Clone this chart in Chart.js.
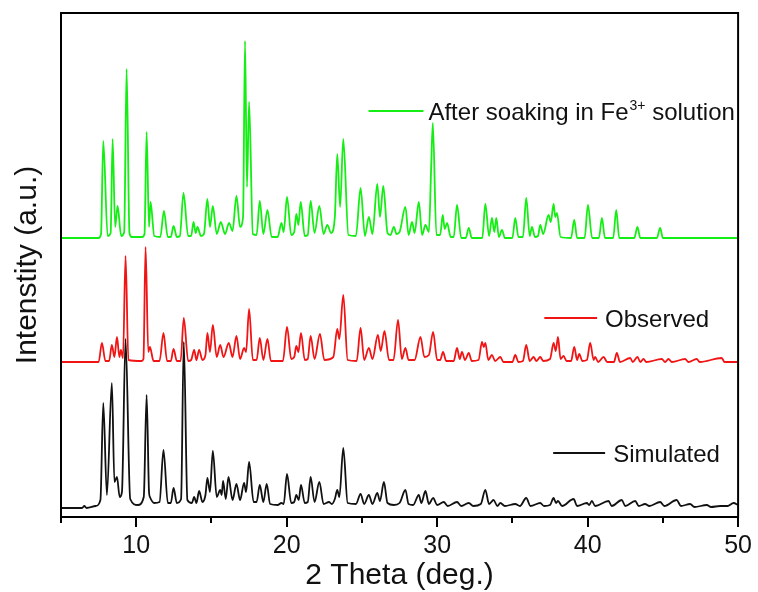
<!DOCTYPE html>
<html>
<head>
<meta charset="utf-8">
<script src="https://cdn.jsdelivr.net/npm/chart.js@4/dist/chart.umd.min.js"></script>
<style>
  body { margin: 0; background: #fff; }
</style>
</head>
<body>
<canvas id="xrd" width="758" height="592"></canvas>
<script>
// 2 theta (deg.) / intensity pairs, traces already offset
var simulated = [
  [5, 9], [6.4, 9], [6.55, 11], [6.7, 9], [7.3, 11], [7.62, 17], [7.81, 114], [8.05, 22], [8.38, 134],
  [8.55, 35], [8.72, 40], [8.9, 20], [9.05, 25], [9.29, 178], [9.6, 18], [10.1, 12], [10.5, 20],
  [10.69, 122], [10.85, 25], [10.91, 20], [11.2, 14], [11.55, 15], [11.81, 67], [12.1, 14],
  [12.3, 14], [12.48, 29], [12.7, 14], [12.98, 18], [13.16, 175], [13.4, 17], [13.7, 14],
  [13.85, 20], [14.0, 14], [14.18, 26], [14.4, 15], [14.6, 22], [14.73, 39], [14.9, 25],
  [15.09, 66], [15.35, 20], [15.58, 27], [15.68, 22], [15.77, 36], [15.95, 18], [16.13, 40],
  [16.4, 17], [16.66, 33], [16.9, 17], [17.17, 34], [17.3, 25], [17.5, 55], [17.8, 15],
  [18.0, 15], [18.21, 32], [18.45, 15], [18.67, 33], [18.9, 13], [19.4, 12], [19.65, 14],
  [19.8, 13], [20.02, 43], [20.3, 14], [20.5, 15], [20.64, 22], [20.8, 17], [20.95, 32],
  [21.2, 14], [21.4, 15], [21.59, 40], [21.85, 15], [22.17, 35], [22.45, 13], [22.81, 15],
  [23.0, 13], [23.2, 18], [23.36, 27], [23.5, 20], [23.76, 69], [24.05, 14], [24.6, 13],
  [24.91, 23], [25.15, 13], [25.46, 22], [25.7, 13], [26.02, 24], [26.2, 16], [26.46, 35],
  [26.7, 14], [27.12, 12], [27.5, 14], [27.89, 27], [28.1, 13], [28.4, 12], [28.78, 22],
  [28.95, 14], [29.22, 26], [29.45, 13], [29.73, 19], [30.0, 12], [30.44, 15], [30.7, 11],
  [31.32, 15], [31.6, 11], [32.1, 14], [32.4, 11], [32.9, 13], [33.2, 27], [33.45, 13],
  [33.75, 17], [34.0, 11], [34.2, 14], [34.5, 11], [35.19, 13], [35.5, 11], [35.92, 19],
  [36.2, 11], [36.85, 14], [37.1, 11], [37.5, 12], [37.74, 19], [37.9, 14], [38.03, 16],
  [38.3, 11], [39.07, 18], [39.3, 11], [39.95, 14], [40.1, 12], [40.28, 16], [40.5, 11],
  [41.39, 16], [41.6, 11], [42.27, 17], [42.5, 11], [43.16, 16], [43.4, 11], [43.82, 13],
  [44.1, 11], [44.82, 15], [45.1, 11], [45.92, 17], [46.2, 11], [46.81, 13], [47.1, 10],
  [47.92, 12], [48.2, 10], [48.8, 11], [49.3, 11], [49.7, 14], [50, 12]
];

var observed = [
  [5, 155], [7.5, 155], [7.72, 174], [7.95, 156], [8.2, 156], [8.38, 172], [8.55, 160],
  [8.72, 180], [8.88, 160], [8.98, 167], [9.12, 159], [9.29, 261], [9.48, 157], [10.35, 156],
  [10.48, 158], [10.62, 270], [10.8, 165], [10.91, 170], [11.15, 156], [11.55, 156], [11.81, 184],
  [12.05, 156], [12.3, 156], [12.48, 168], [12.7, 156], [12.95, 156], [13.16, 199],
  [13.45, 156], [13.65, 157], [13.85, 167], [14.0, 157], [14.18, 167], [14.4, 157],
  [14.6, 162], [14.73, 184], [14.9, 165], [15.09, 192], [15.35, 160], [15.58, 172],
  [15.8, 160], [16.15, 174], [16.4, 160], [16.66, 181], [16.9, 158], [17.17, 169],
  [17.3, 165], [17.5, 208], [17.75, 157], [18.0, 157], [18.21, 179], [18.45, 157],
  [18.72, 178], [18.95, 156], [19.75, 156], [20.02, 190], [20.3, 158], [20.5, 160],
  [20.64, 171], [20.78, 165], [20.95, 184], [21.2, 157], [21.4, 158], [21.59, 181],
  [21.85, 158], [22.21, 183], [22.5, 157], [23.1, 160], [23.36, 188], [23.5, 178],
  [23.76, 222], [24.05, 157], [24.65, 156], [24.91, 189], [25.15, 157], [25.46, 169],
  [25.7, 158], [26.06, 182], [26.25, 166], [26.5, 186], [26.8, 157], [27.1, 157],
  [27.4, 197], [27.65, 158], [27.89, 169], [28.1, 157], [28.5, 157], [28.89, 180],
  [29.15, 160], [29.45, 162], [29.73, 185], [30.0, 157], [30.2, 157], [30.39, 165],
  [30.6, 156], [31.1, 156], [31.32, 169], [31.5, 158], [31.65, 165], [31.85, 157],
  [32.1, 164], [32.3, 156], [32.75, 157], [32.98, 175], [33.1, 170], [33.2, 174],
  [33.4, 157], [33.64, 162], [33.85, 156], [34.2, 160], [34.4, 155], [35.0, 155],
  [35.19, 162], [35.4, 155], [35.7, 156], [35.92, 172], [36.15, 156], [36.41, 160],
  [36.6, 156], [36.85, 160], [37.05, 156], [37.5, 158], [37.74, 174], [37.88, 166],
  [38.03, 180], [38.2, 158], [38.4, 161], [38.6, 156], [38.9, 156], [39.11, 170],
  [39.3, 157], [39.44, 163], [39.65, 156], [39.95, 157], [40.17, 174], [40.4, 157],
  [40.5, 160], [40.7, 155], [41.06, 160], [41.3, 155], [41.75, 155], [41.94, 164],
  [42.15, 155], [42.83, 159], [43.0, 155], [43.31, 160], [43.5, 155], [43.71, 158],
  [43.9, 155], [44.93, 158], [45.15, 155], [45.37, 158], [45.6, 155], [46.48, 158],
  [46.7, 155], [47.25, 158], [47.45, 155], [48.91, 159], [49.1, 155], [50, 155]
];

var afterSoak = [
  [5, 279], [7.5, 279], [7.66, 283], [7.81, 376], [8.1, 281], [8.3, 284], [8.43, 378], [8.6, 290], [8.76, 311],
  [9.0, 281], [9.2, 285], [9.36, 448], [9.55, 284], [9.7, 280], [10.4, 280], [10.55, 283], [10.69, 385],
  [10.85, 290], [10.95, 315],
  [11.2, 281], [11.6, 280], [11.84, 306], [12.1, 280], [12.3, 280], [12.48, 291], [12.7, 280],
  [12.9, 281], [13.14, 324], [13.45, 281], [13.65, 281], [13.81, 295], [13.95, 284],
  [14.07, 290], [14.3, 281], [14.5, 283], [14.73, 318], [14.9, 290], [15.09, 311],
  [15.35, 283], [15.62, 295], [15.9, 283], [16.17, 294], [16.4, 286], [16.66, 321],
  [16.9, 290], [17.1, 300], [17.23, 476], [17.36, 330], [17.5, 415], [17.75, 283], [18.0, 282],
  [18.21, 316], [18.45, 283], [18.72, 307], [19.0, 280], [19.4, 280], [19.65, 294],
  [19.8, 285], [20.02, 320], [20.3, 282], [20.5, 285], [20.64, 303], [20.78, 292],
  [20.93, 315], [21.2, 281], [21.4, 282], [21.59, 316], [21.85, 284], [22.17, 311],
  [22.45, 283], [22.7, 292], [22.95, 284], [23.2, 300], [23.36, 363], [23.55, 310],
  [23.76, 378], [24.1, 282], [24.6, 281], [24.91, 329], [25.2, 281], [25.46, 300],
  [25.7, 283], [26.02, 333], [26.2, 300], [26.42, 331], [26.7, 284], [26.9, 282],
  [27.12, 290], [27.3, 283], [27.5, 285], [27.89, 310], [28.1, 282], [28.33, 295],
  [28.5, 284], [28.78, 315], [29.0, 282], [29.22, 292], [29.45, 285], [29.6, 349],
  [29.71, 394], [29.95, 282], [30.2, 282], [30.37, 302], [30.5, 288], [30.66, 294],
  [30.9, 280], [31.1, 280], [31.32, 312], [31.6, 279], [31.9, 279], [32.1, 289], [32.3, 279],
  [33.0, 279], [33.2, 313], [33.45, 281], [33.64, 299], [33.8, 285], [33.93, 299],
  [34.1, 280], [34.31, 287], [34.5, 279], [35.0, 279], [35.19, 299], [35.4, 280],
  [35.7, 280], [35.92, 319], [36.15, 281], [36.3, 290], [36.5, 280], [36.7, 281],
  [36.85, 292], [37.05, 283], [37.4, 302], [37.55, 295], [37.74, 313], [37.85, 300],
  [37.96, 304], [38.2, 280], [38.9, 279], [39.11, 297], [39.3, 279], [39.8, 279],
  [40.02, 312], [40.3, 279], [40.75, 279], [40.95, 299], [41.15, 279], [41.7, 279],
  [41.9, 307], [42.1, 279], [43.1, 279], [43.31, 290], [43.5, 279], [44.6, 279],
  [44.82, 289], [45.0, 279], [50, 279]
];

var xTicks = [5, 10, 15, 20, 25, 30, 35, 40, 45, 50];

var FONT = 'Arial, "Liberation Sans", sans-serif';

// legend entries sit inside the plot, given in axis units
var legendItems = [
  { text: 'After soaking in Fe', sup: '3+', tail: ' solution', color: '#14ee14', x0: 25.44, x1: 29.09, tx: 29.42, y: 406 },
  { text: 'Observed', color: '#f01414', x0: 37.12, x1: 40.63, tx: 41.16, y: 199 },
  { text: 'Simulated', color: '#111111', x0: 37.71, x1: 41.16, tx: 41.7, y: 64 }
];

function toPoints(arr) {
  return arr.map(function (p) { return { x: p[0], y: p[1] }; });
}

var framePlugin = {
  id: 'frame',
  afterDraw: function (chart) {
    var ctx = chart.ctx;
    var a = chart.chartArea;
    var xs = chart.scales.x;
    var ys = chart.scales.y;
    ctx.save();
    ctx.strokeStyle = '#000';
    ctx.lineWidth = 2;
    ctx.strokeRect(a.left, a.top, a.right - a.left, a.bottom - a.top);
    // outward ticks, long at labelled values
    ctx.beginPath();
    xTicks.forEach(function (v) {
      var px = Math.round(xs.getPixelForValue(v));
      var len = v % 10 === 0 ? 10 : 6;
      ctx.moveTo(px, a.bottom);
      ctx.lineTo(px, a.bottom + len);
    });
    ctx.stroke();

    legendItems.forEach(function (it) {
      var py = ys.getPixelForValue(it.y);
      ctx.strokeStyle = it.color;
      ctx.lineWidth = 2;
      ctx.beginPath();
      ctx.moveTo(xs.getPixelForValue(it.x0), py);
      ctx.lineTo(xs.getPixelForValue(it.x1), py);
      ctx.stroke();
      ctx.fillStyle = '#111';
      ctx.textBaseline = 'alphabetic';
      ctx.font = '24px ' + FONT;
      var tx = xs.getPixelForValue(it.tx);
      var base = py + 8.5;
      ctx.fillText(it.text, tx, base);
      if (it.sup) {
        tx += ctx.measureText(it.text).width + 1;
        ctx.font = '14px ' + FONT;
        ctx.fillText(it.sup, tx, base - 10);
        tx += ctx.measureText(it.sup).width;
        ctx.font = '24px ' + FONT;
        ctx.fillText(it.tail, tx, base);
      }
    });
    ctx.restore();
  }
};

var ctx = document.getElementById('xrd').getContext('2d');
var chart = new Chart(ctx, {
  type: 'line',
  data: {
    datasets: [
      { label: 'After soaking in Fe3+ solution', data: toPoints(afterSoak), borderColor: '#14ee14' },
      { label: 'Observed', data: toPoints(observed), borderColor: '#f01414' },
      { label: 'Simulated', data: toPoints(simulated), borderColor: '#111111' }
    ]
  },
  options: {
    responsive: false,
    animation: false,
    events: [],
    layout: { padding: { top: 13, right: 13, left: 0, bottom: 0 } },
    elements: {
      point: { radius: 0 },
      line: { borderWidth: 1.8, cubicInterpolationMode: 'monotone', fill: false }
    },
    plugins: {
      legend: { display: false },
      tooltip: { enabled: false }
    },
    scales: {
      x: {
        type: 'linear',
        min: 5,
        max: 50,
        grid: { display: false },
        border: { display: false },
        afterBuildTicks: function (scale) {
          scale.ticks = xTicks.map(function (v) { return { value: v }; });
        },
        afterFit: function (scale) { scale.height = 75; },
        ticks: {
          autoSkip: false,
          maxRotation: 0,
          padding: 6,
          color: '#111',
          font: { family: FONT, size: 25 },
          callback: function (v) { return v % 10 === 0 ? v : ''; }
        },
        title: {
          display: true,
          text: '2 Theta (deg.)',
          color: '#111',
          font: { family: FONT, size: 30, lineHeight: 1 },
          padding: { top: 0, bottom: 1 }
        }
      },
      y: {
        min: 0,
        max: 504,
        grid: { display: false },
        border: { display: false },
        ticks: { display: false },
        afterFit: function (scale) { scale.width = 61; },
        title: {
          display: true,
          text: 'Intenstity (a.u.)',
          color: '#111',
          font: { family: FONT, size: 30, lineHeight: 1 },
          padding: { top: 13, bottom: 0 }
        }
      }
    }
  },
  plugins: [framePlugin]
});
</script>
</body>
</html>
